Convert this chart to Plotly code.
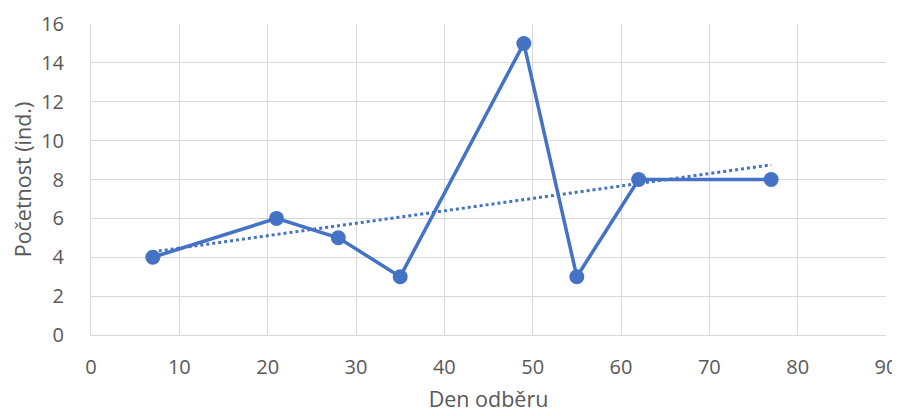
import numpy as np
import plotly.graph_objects as go

days = [7, 21, 28, 35, 49, 55, 62, 77]
counts = [4, 6, 5, 3, 15, 3, 8, 8]
x_ticks = [0, 10, 20, 30, 40, 50, 60, 70, 80, 90]
y_ticks = [0, 2, 4, 6, 8, 10, 12, 14, 16]

color = "#4472C4"
grid = "#D9D9D9"
txt = "#595959"
font = "Open Sans, Liberation Sans, sans-serif"

slope, intercept = np.polyfit(days, counts, 1)
trend_x = [min(days), max(days)]
trend_y = [slope * v + intercept for v in trend_x]

fig = go.Figure()
fig.add_trace(go.Scatter(x=trend_x, y=trend_y, mode="lines",
                         line=dict(color=color, width=3, dash="dot"),
                         hoverinfo="skip", showlegend=False))
fig.add_trace(go.Scatter(x=days, y=counts, mode="lines+markers",
                         line=dict(color=color, width=3.5),
                         marker=dict(color=color, size=15),
                         showlegend=False))

# page body has an 8px margin, so the figure is smaller than the window
fig.update_layout(
    width=892, height=408,
    margin=dict(l=83, r=14, t=16, b=81),
    paper_bgcolor="white", plot_bgcolor="white",
    font=dict(family=font, color=txt, size=20),
)
fig.update_xaxes(range=[0, 90], tickvals=x_ticks, showgrid=True, gridcolor=grid,
                 gridwidth=1, zeroline=False, showline=True, linecolor=grid,
                 ticks="", tickfont=dict(size=20, color=txt), ticklabelstandoff=14,
                 ticklabeloverflow="allow", automargin=False,
                 title=dict(text="Den odběru", font=dict(size=21.5, color=txt), standoff=12))
fig.update_yaxes(range=[0, 16], tickvals=y_ticks, showgrid=True, gridcolor=grid,
                 gridwidth=1, zeroline=False, showline=True, linecolor=grid,
                 ticks="", tickfont=dict(size=20, color=txt), ticklabelstandoff=22,
                 automargin=False,
                 title=dict(text="Početnost (ind.)", font=dict(size=21.5, color=txt), standoff=8))

fig.write_html("out.html")
